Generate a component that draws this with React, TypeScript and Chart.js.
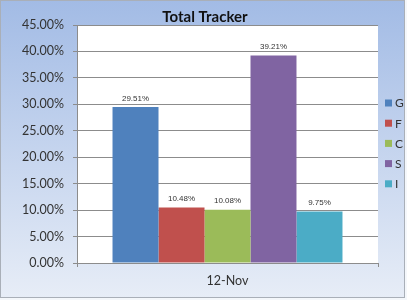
import React, { useEffect, useRef } from "react";
import { Chart, registerables } from "chart.js";

Chart.register(...registerables);

const categories = ["12-Nov"];
const seriesNames = ["G", "F", "C", "S", "I"];
const seriesValues = [29.51, 10.48, 10.08, 39.21, 9.75];
const seriesColors = ["#4f81bd", "#c0504d", "#9bbb59", "#8064a2", "#4bacc6"];
const yTicks = { min: 0, max: 45, step: 5 };
const titleText = "Total Tracker";

const W = 407;
const H = 300;

const bgPlugin = {
  id: "bgPlugin",
  beforeDraw(chart: any) {
    const ctx = chart.ctx;
    ctx.save();
    ctx.fillStyle = "#f4f7fb";
    ctx.fillRect(0, 0, W, H);
    const g = ctx.createLinearGradient(0, 0, 0, 298);
    g.addColorStop(0, "#a2bbe5");
    g.addColorStop(1, "#e7edf7");
    ctx.fillStyle = g;
    ctx.fillRect(0, 0, 405, 298);
    ctx.strokeStyle = "#a9afb8";
    ctx.lineWidth = 1;
    ctx.strokeRect(0.5, 0.5, 404, 297);
    const a = chart.chartArea;
    ctx.fillStyle = "#ffffff";
    ctx.fillRect(a.left, a.top, a.right - a.left, a.bottom - a.top);
    ctx.restore();
  },
  afterDraw(chart: any) {
    const ctx = chart.ctx;
    ctx.save();
    ctx.font = "bold 15px Lato";
    ctx.fillStyle = "#111111";
    ctx.textAlign = "center";
    ctx.textBaseline = "middle";
    ctx.fillText(titleText, 205, 17);
    // legend
    ctx.font = "12px Lato";
    ctx.textAlign = "left";
    chart.data.datasets.forEach((ds: any, i: number) => {
      const y = 103 + i * 20.2;
      ctx.fillStyle = ds.backgroundColor;
      ctx.fillRect(385, y - 3.5, 7, 7);
      ctx.fillStyle = "#333333";
      ctx.fillText(ds.label, 395, y + 0.5);
    });
    ctx.restore();
  },
  afterDatasetsDraw(chart: any) {
    const ctx = chart.ctx;
    ctx.save();
    ctx.font = "8px 'Liberation Sans'";
    ctx.fillStyle = "#333333";
    ctx.textAlign = "center";
    ctx.textBaseline = "middle";
    chart.data.datasets.forEach((ds: any, i: number) => {
      const meta = chart.getDatasetMeta(i);
      meta.data.forEach((bar: any, j: number) => {
        ctx.fillText(ds.data[j].toFixed(2) + "%", bar.x, bar.y - 8.5);
      });
    });
    ctx.restore();
  },
};

export default function App() {
  const ref = useRef<HTMLCanvasElement>(null);
  useEffect(() => {
    if (!ref.current) return;
    const chart = new Chart(ref.current, {
      type: "bar",
      data: {
        labels: categories,
        datasets: seriesNames.map((name, i) => ({
          label: name,
          data: [seriesValues[i]],
          backgroundColor: seriesColors[i],
          borderWidth: 0,
          categoryPercentage: 0.764,
          barPercentage: 1,
        })),
      },
      options: {
        responsive: false,
        animation: false,
        layout: { padding: { top: 25, right: 29, bottom: 0, left: 0 } },
        plugins: {
          legend: { display: false },
          title: { display: false },
          tooltip: { enabled: false },
        },
        scales: {
          x: {
            grid: {
              drawOnChartArea: false,
              drawTicks: true,
              tickLength: 4,
              color: "#8c8c8c",
            },
            border: { display: true, color: "#8c8c8c" },
            ticks: {
              padding: 6,
              color: "#333333",
              font: { family: "Lato", size: 12.5 },
            },
            afterFit(scale: any) {
              scale.height = 37;
            },
          },
          y: {
            min: yTicks.min,
            max: yTicks.max,
            grid: {
              color: "#8c8c8c",
              tickLength: 4,
            },
            border: { display: true, color: "#8c8c8c" },
            ticks: {
              stepSize: yTicks.step,
              padding: 9,
              color: "#333333",
              font: { family: "Lato", size: 12.5 },
              callback: (v: any) => Number(v).toFixed(2) + "%",
            },
            afterFit(scale: any) {
              scale.width = 77;
            },
          },
        },
      },
      plugins: [bgPlugin],
    });
    return () => chart.destroy();
  }, []);
  return (
    <div style={{ position: "fixed", left: 0, top: 0, width: W, height: H }}>
      <canvas ref={ref} width={W} height={H} style={{ width: W, height: H, display: "block" }} />
    </div>
  );
}
